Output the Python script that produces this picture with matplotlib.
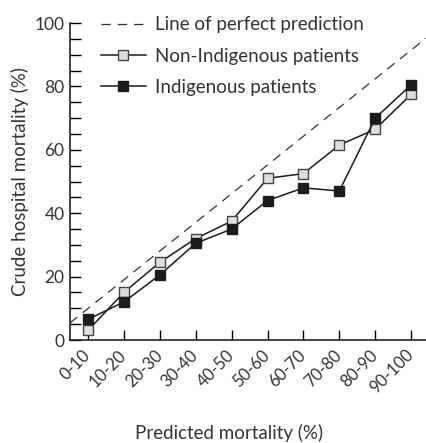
import matplotlib
matplotlib.use("Agg")
import matplotlib.pyplot as plt
import matplotlib.transforms as mtransforms
from matplotlib.ticker import MultipleLocator

plt.rcParams["font.family"] = ["Lato", "DejaVu Sans"]

# predicted mortality bands and observed (crude) mortality per band
bands = ["0-10", "10-20", "20-30", "30-40", "40-50", "50-60", "60-70", "70-80", "80-90", "90-100"]
band_mid = [5, 15, 25, 35, 45, 55, 65, 75, 85, 95]
non_indigenous = [3, 15, 24.5, 32, 37.5, 51, 52.5, 61.5, 66.5, 77.5]
indigenous = [6.5, 12, 20.5, 30.5, 35, 44, 48, 47, 70, 80.5]

# reference line as it is drawn in the figure
perfect_x = [0, 100]
perfect_y = [5.4, 96]

text_col = "#333333"

fig = plt.figure(figsize=(4.26, 4.43), dpi=100)
ax = fig.add_axes([0.1643, 0.2325, 0.843, 0.7155])

ax.plot(perfect_x, perfect_y, color="#333333", lw=0.9, dashes=(7.5, 5.5),
        label="Line of perfect prediction")
ax.plot(band_mid, non_indigenous, color="#1a1a1a", lw=1.1, marker="s", ms=7.5,
        mfc="#dedede", mec="#444444", mew=1.0, label="Non-Indigenous patients")
ax.plot(band_mid, indigenous, color="#1a1a1a", lw=1.1, marker="s", ms=7.5,
        mfc="#1c1c1c", mec="#1c1c1c", mew=1.0, label="Indigenous patients")

ax.set_xlim(0, 100)
ax.set_ylim(0, 100)
ax.set_xticks(band_mid)
ax.set_xticklabels(bands, rotation=45, ha="right", va="center", rotation_mode="anchor",
                   fontsize=12, color=text_col)
# nudge the rotated labels a bit to the left, like the original
shift = mtransforms.ScaledTranslation(-8 / 100, 2 / 100, fig.dpi_scale_trans)
for lab in ax.get_xticklabels():
    lab.set_transform(lab.get_transform() + shift)
ax.set_yticks([0, 20, 40, 60, 80, 100])
ax.yaxis.set_minor_locator(MultipleLocator(5))
ax.tick_params(axis="y", which="both", direction="in", length=8, width=1.0,
               labelsize=12.5, labelcolor=text_col, pad=4)
ax.tick_params(axis="x", direction="in", length=7, width=1.0, pad=9)

for s in ["top", "right"]:
    ax.spines[s].set_visible(False)
for s in ["left", "bottom"]:
    ax.spines[s].set_linewidth(1.2)
    ax.spines[s].set_color("#222222")

ax.set_ylabel("Crude hospital mortality (%)", fontsize=13.5, color=text_col)
ax.yaxis.set_label_coords(-0.114, 0.5)
ax.set_xlabel("Predicted mortality (%)", fontsize=13.5, color=text_col)
ax.xaxis.set_label_coords(0.443, -0.265)

ax.legend(loc="upper left", bbox_to_anchor=(0.038, 1.075), frameon=False,
          fontsize=13.5, handlelength=2.45, handletextpad=0.48, labelspacing=0.77,
          labelcolor=text_col)

fig.savefig("out.png", dpi=100)
